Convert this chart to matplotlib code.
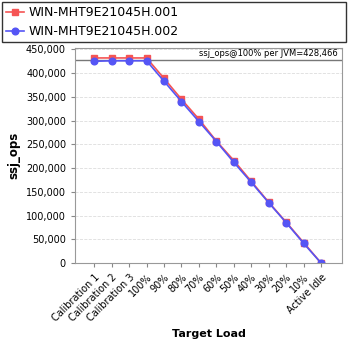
import matplotlib
matplotlib.use("Agg")
import matplotlib.pyplot as plt
from matplotlib.ticker import FuncFormatter

# Target load levels and throughput per JVM
categories = ["Calibration 1", "Calibration 2", "Calibration 3", "100%", "90%", "80%",
              "70%", "60%", "50%", "40%", "30%", "20%", "10%", "Active Idle"]
jvm_001 = [432000, 432000, 432000, 432000, 389000, 345000, 303000, 257000, 216000,
           172000, 128000, 86000, 43000, 0]
jvm_002 = [425000, 426000, 426000, 426000, 383000, 340000, 298000, 256000, 212000,
           170000, 127000, 85000, 41500, 0]
avg_100 = 428466

RED = "#F55454"
BLUE = "#5555F5"

fig = plt.figure(figsize=(3.48, 3.48), dpi=100)
ax = fig.add_axes([0.2155, 0.244, 0.7675, 0.6195])

x = list(range(len(categories)))
ax.plot(x, jvm_001, "-s", color=RED, markersize=4.8, linewidth=1.2, label="WIN-MHT9E21045H.001")
ax.plot(x, jvm_002, "-o", color=BLUE, markersize=4.8, linewidth=1.2, label="WIN-MHT9E21045H.002")

ax.axhline(avg_100, color="#777777", linewidth=1.0, zorder=1)
ax.text(0.985, avg_100 + 3000, f"ssj_ops@100% per JVM={avg_100:,}", transform=ax.get_yaxis_transform(),
        ha="right", va="bottom", fontsize=6)

ax.set_xlim(-1.1, 14.2)
ax.set_ylim(0, 454000)
ax.set_yticks(range(0, 450001, 50000))
ax.yaxis.set_major_formatter(FuncFormatter(lambda v, p: f"{int(v):,}"))
ax.set_xticks(x)
ax.set_xticklabels(categories, rotation=45, ha="right", rotation_mode="anchor", fontsize=7)
ax.tick_params(axis="y", labelsize=7, length=3, color="#888888")
ax.tick_params(axis="x", length=3, color="#888888")
ax.grid(axis="y", color="#dddddd", linestyle="--", linewidth=0.6)
ax.set_axisbelow(True)
for s in ax.spines.values():
    s.set_color("#999999")

ax.set_xlabel("Target Load", fontsize=8, fontweight="bold", labelpad=4)
ax.set_ylabel("ssj_ops", fontsize=8.5, fontweight="bold")

leg = fig.legend(loc="upper left", mode="expand",
                 fontsize=9, frameon=True, fancybox=False, edgecolor="black", borderaxespad=0,
                 handlelength=1.4, handletextpad=0.4, labelspacing=0.45, borderpad=0.35)
leg.set_bbox_to_anchor((0.006, 0.876, 0.988, 0.118), transform=fig.transFigure)

fig.savefig("out.png", dpi=100)
